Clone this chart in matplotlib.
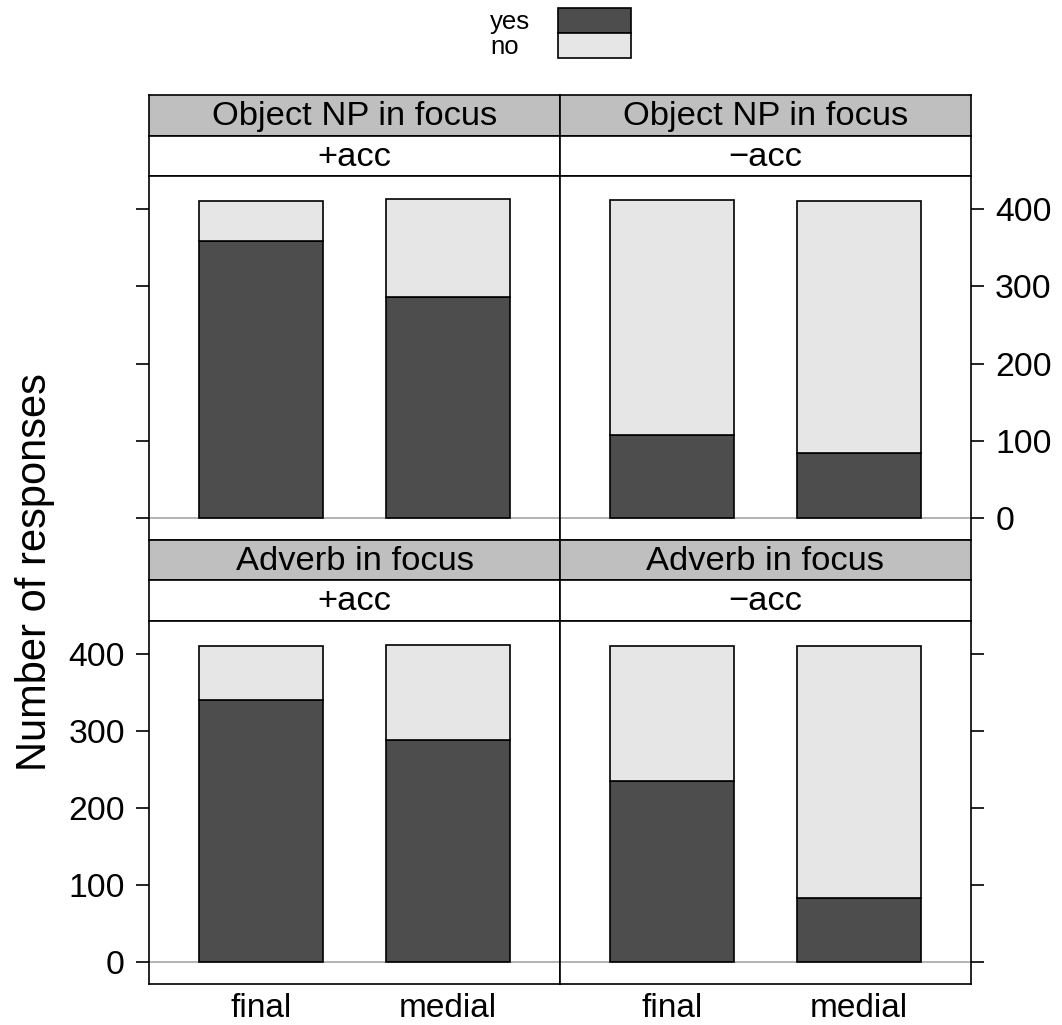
import matplotlib
matplotlib.use("Agg")
import matplotlib.pyplot as plt
from matplotlib.patches import Rectangle

plt.rcParams['font.family'] = ['Liberation Sans', 'DejaVu Sans']

positions = ["final", "medial"]
focus_labels = ["Object NP in focus", "Object NP in focus", "Adverb in focus", "Adverb in focus"]
acc_labels = ["+acc", "\u2212acc", "+acc", "\u2212acc"]
# panel order: top-left, top-right, bottom-left, bottom-right
yes_counts = [[359, 286], [107, 84], [340, 288], [235, 84]]
no_counts = [[52, 127], [305, 327], [71, 124], [175, 327]]
y_ticks = [0, 100, 200, 300, 400]
legend_labels = ["yes", "no"]

YES_COL = "#4d4d4d"
NO_COL = "#e6e6e6"
STRIP1_COL = "#bfbfbf"
LW = 1.2

W, H = 1062, 1025
fig = plt.figure(figsize=(W / 100, H / 100), dpi=100)

def fx(px):
    return px / W

def fy(py):
    return 1 - py / H

xs = [149, 560, 971]
rows = [  # (strip1 top, strip1 bottom, strip2 bottom, panel bottom)
    (95, 136, 176, 540),
    (540, 580.3, 621, 984.3),
]

ymin, ymax = -28.5, 442.8

for idx in range(4):
    r, c = divmod(idx, 2)
    s1t, s1b, s2b, pb = rows[r]
    x0, x1 = xs[c], xs[c + 1]
    # strips
    for (top, bot, col, lab) in [(s1t, s1b, STRIP1_COL, focus_labels[idx]),
                                 (s1b, s2b, "white", acc_labels[idx])]:
        sax = fig.add_axes([fx(x0), fy(bot), fx(x1) - fx(x0), fy(top) - fy(bot)])
        sax.set_facecolor(col)
        sax.set_xticks([]); sax.set_yticks([])
        for sp in sax.spines.values():
            sp.set_linewidth(LW)
            sp.set_color("black")
        sax.text(0.5, 0.47, lab, ha="center", va="center", fontsize=24.8,
                 transform=sax.transAxes)
    # panel
    ax = fig.add_axes([fx(x0), fy(pb), fx(x1) - fx(x0), fy(s2b) - fy(pb)])
    ax.set_xlim(0.4, 2.6)
    ax.set_ylim(ymin, ymax)
    ax.axhline(0, color="#b3b3b3", lw=1.4, zorder=1)
    xpos = list(range(1, len(positions) + 1))
    ax.bar(xpos, yes_counts[idx], width=2 / 3, color=YES_COL, edgecolor="black",
           linewidth=LW, zorder=2)
    ax.bar(xpos, no_counts[idx], bottom=yes_counts[idx], width=2 / 3, color=NO_COL,
           edgecolor="black", linewidth=LW, zorder=2)
    for sp in ax.spines.values():
        sp.set_linewidth(LW)
        sp.set_color("black")
    ax.set_xticks(xpos)
    if r == 1:
        ax.set_xticklabels(positions, fontsize=24)
        ax.tick_params(axis="x", length=0, pad=6)
    else:
        ax.tick_params(axis="x", length=0, labelbottom=False)
    ax.set_yticks(y_ticks)
    if c == 0:
        ax.tick_params(axis="y", left=True, right=False, direction="out",
                       length=9.4, width=LW, pad=8, labelsize=24.3,
                       labelleft=(r == 1), labelright=False)
    else:
        ax.tick_params(axis="y", left=False, right=True, direction="out",
                       length=9.4, width=LW, pad=8, labelsize=24.3,
                       labelleft=False, labelright=(r == 0))

# y label
fig.text(fx(35), fy(572), "Number of responses", rotation=90, ha="center",
         va="center", fontsize=30)

# legend
lax = fig.add_axes([0, 0, 1, 1], facecolor="none")
lax.set_xlim(0, W); lax.set_ylim(H, 0)
lax.axis("off")
rect_x0, rect_x1 = 558, 631
rect_edges = [8.3, 32.7, 58.3]
leg_cols = [YES_COL, NO_COL]
for i, lab in enumerate(legend_labels):
    lax.add_patch(Rectangle((rect_x0, rect_edges[i]), rect_x1 - rect_x0,
                            rect_edges[i + 1] - rect_edges[i], facecolor=leg_cols[i],
                            edgecolor="black", linewidth=LW))
    lax.text(490, (rect_edges[i] + rect_edges[i + 1]) / 2 + 1, lab, ha="left",
             va="center", fontsize=18.5)

fig.savefig("out.png", dpi=100)
